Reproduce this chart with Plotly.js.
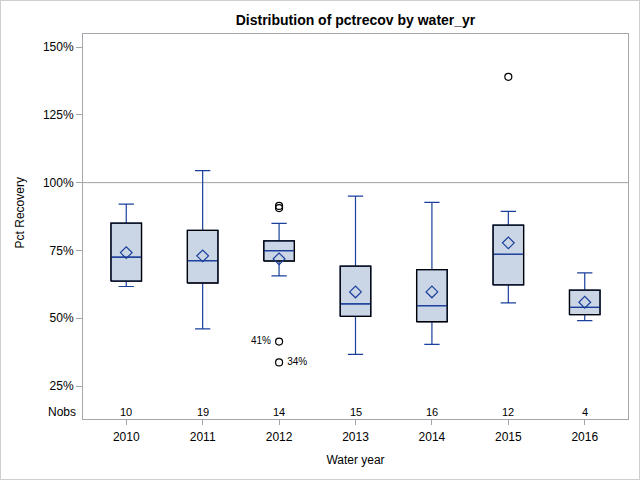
<!DOCTYPE html>
<html>
<head>
<meta charset="utf-8">
<script src="https://cdn.plot.ly/plotly-3.0.1.min.js"></script>
<style>
  html, body { margin: 0; padding: 0; background: #fff; }
  #wrap { position: relative; width: 640px; height: 480px; }
  #chart { width: 640px; height: 480px; }
  #border { position: absolute; left: 0; top: 0; width: 638px; height: 478px; border: 1px solid #cfcfcf; pointer-events: none; }
</style>
</head>
<body>
<div id="wrap"><div id="chart"></div><div id="border"></div></div>
<script>
// ---- data ----
const years = ['2010', '2011', '2012', '2013', '2014', '2015', '2016'];
const q1 = [63.7, 63.0, 71.1, 50.7, 48.7, 62.3, 51.3];
const medians = [72.5, 71.2, 74.9, 55.3, 54.6, 73.6, 54.0];
const q3 = [85.1, 82.4, 78.5, 69.2, 67.9, 84.3, 60.4];
const lowWhisker = [61.7, 46.1, 65.6, 36.7, 40.4, 55.7, 49.1];
const highWhisker = [92.1, 104.4, 85.0, 95.0, 92.7, 89.4, 66.7];
const means = [74.2, 73.0, 71.9, 59.7, 59.7, 77.8, 55.9];
const nobs = [10, 19, 14, 15, 16, 12, 4];
const outlierYear = ['2012', '2012', '2012', '2012', '2015'];
const outlierValue = [91.4, 90.6, 41.4, 33.7, 139.0];
const outlierLabel = ['', '', '41% ', ' 34%', ''];
const outlierLabelPos = ['middle left', 'middle left', 'middle left', 'middle right', 'middle left'];
const yTicks = [25, 50, 75, 100, 125, 150];
const refLine = 100;

// ---- styling ----
const FONT = 'Liberation Sans, Arial, sans-serif';
const BLUE = '#1a3f9c';
const FILL = '#cad5e5';
const FRAME = '#a3a6ab';
const BOXW = 0.4;

const idx = years.map((_, i) => i);
const pos = y => years.indexOf(y);

// black rectangle outline around each box (drawn through the axis scale)
const outX = [], outY = [];
idx.forEach(i => {
  const a = i - BOXW / 2, b = i + BOXW / 2;
  outX.push(a, b, b, a, a, null);
  outY.push(q1[i], q1[i], q3[i], q3[i], q1[i], null);
});

const traces = [
  {
    type: 'box', x: idx, q1: q1, median: medians, q3: q3,
    lowerfence: lowWhisker, upperfence: highWhisker,
    width: BOXW, whiskerwidth: 0.5, boxpoints: false,
    fillcolor: FILL, line: { color: BLUE, width: 1.2 },
    hoverinfo: 'skip'
  },
  {
    type: 'scatter', mode: 'lines', x: outX, y: outY,
    line: { color: '#000', width: 1.3 }, hoverinfo: 'skip'
  },
  {
    type: 'scatter', mode: 'lines',
    x: idx.flatMap(i => [i - BOXW / 2 + 0.01, i + BOXW / 2 - 0.01, null]),
    y: medians.flatMap(m => [m, m, null]),
    line: { color: BLUE, width: 1.2 }, hoverinfo: 'skip'
  },
  {
    type: 'scatter', mode: 'markers', x: idx, y: means,
    marker: { symbol: 'diamond-open', size: 9, color: BLUE, line: { width: 1.2, color: BLUE } },
    hoverinfo: 'skip'
  },
  {
    type: 'scatter', mode: 'markers+text', x: outlierYear.map(pos), y: outlierValue,
    text: outlierLabel, textposition: outlierLabelPos,
    textfont: { family: FONT, size: 10, color: '#000' },
    marker: { symbol: 'circle-open', size: 7, color: '#000', line: { width: 1.2, color: '#000' } },
    hoverinfo: 'skip'
  }
];

const annotations = idx.map(i => ({
  x: i, y: 15.6, xref: 'x', yref: 'y', text: String(nobs[i]), showarrow: false,
  font: { family: FONT, size: 11, color: '#000' }
}));
annotations.push({
  x: -0.01, y: 15.6, xref: 'paper', yref: 'y', xanchor: 'right', text: 'Nobs', showarrow: false,
  font: { family: FONT, size: 12, color: '#000' }
});
annotations.push({
  x: -0.116, y: 0.536, xref: 'paper', yref: 'paper', text: 'Pct Recovery', textangle: -90,
  showarrow: false, xanchor: 'center', yanchor: 'middle',
  font: { family: FONT, size: 12, color: '#000' }
});

const layout = {
  width: 640, height: 480,
  margin: { l: 83, r: 12, t: 34, b: 61 },
  paper_bgcolor: '#fff', plot_bgcolor: '#fff',
  showlegend: false, hovermode: false,
  font: { family: FONT, size: 12, color: '#000' },
  title: {
    text: 'Distribution of pctrecov by water_yr',
    font: { family: FONT, size: 14, weight: 'bold', color: '#000' },
    x: 0.5, xref: 'paper', y: 1 - 20 / 480, yref: 'container', yanchor: 'middle'
  },
  xaxis: {
    range: [-0.566, 6.566], tickvals: idx, ticktext: years,
    showgrid: false, zeroline: false, showline: true, mirror: true, linecolor: FRAME, linewidth: 1,
    ticks: 'outside', ticklen: 5, tickcolor: FRAME, ticklabelstandoff: 2,
    tickfont: { family: FONT, size: 12, color: '#000' },
    title: { text: 'Water year', font: { family: FONT, size: 12, color: '#000' }, standoff: 12 }
  },
  yaxis: {
    range: [12.85, 154.8], tickvals: yTicks, ticktext: yTicks.map(v => v + '%'),
    showgrid: false, zeroline: false, showline: true, mirror: true, linecolor: FRAME, linewidth: 1,
    ticks: 'outside', ticklen: 6, tickcolor: FRAME,
    tickfont: { family: FONT, size: 12, color: '#000' }
  },
  shapes: [{
    type: 'line', xref: 'paper', x0: 0, x1: 1, yref: 'y', y0: refLine, y1: refLine,
    line: { color: '#a0a0a0', width: 1 }, layer: 'below'
  }],
  annotations: annotations
};

Plotly.newPlot('chart', traces, layout, { staticPlot: true, displayModeBar: false });
</script>
</body>
</html>
